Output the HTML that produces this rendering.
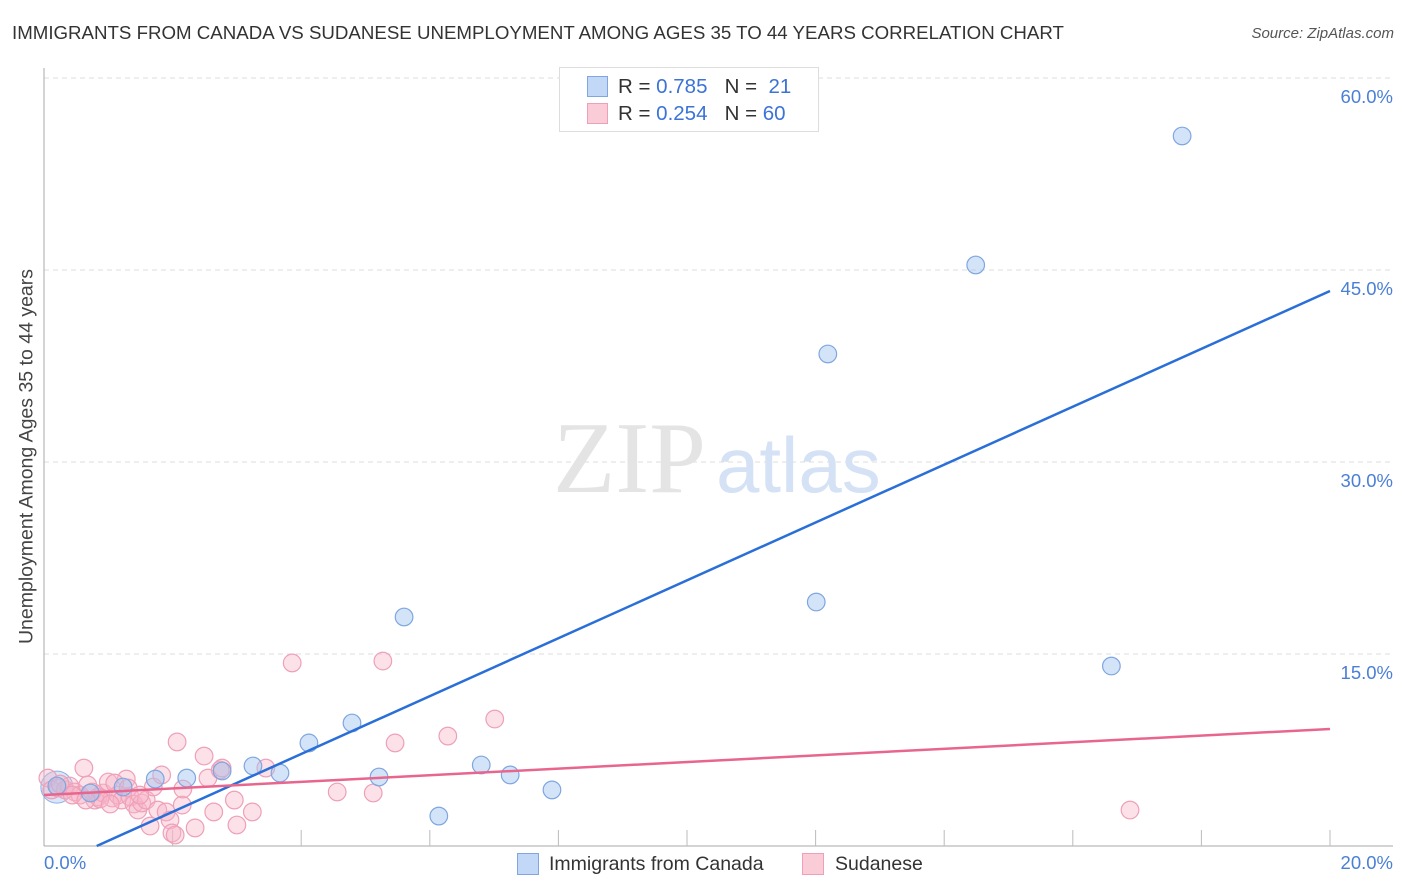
<!DOCTYPE html>
<html><head><meta charset="utf-8"><style>
body{margin:0;background:#fff;font-family:"Liberation Sans",sans-serif}
#wrap{position:relative;width:1406px;height:892px;overflow:hidden}
.t{position:absolute;white-space:nowrap}
</style></head><body>
<div id="wrap">
<div class="t" style="left:12px;top:22px;font-size:18.7px;color:#333">IMMIGRANTS FROM CANADA VS SUDANESE UNEMPLOYMENT AMONG AGES 35 TO 44 YEARS CORRELATION CHART</div>
<div class="t" style="right:12px;top:25px;font-size:15px;color:#555;font-style:italic">Source: ZipAtlas.com</div>
<svg id="svg" width="1406" height="892" style="position:absolute;left:0;top:0"></svg>
</div>
<script>
const blueX=[0.20,0.72,1.23,1.73,2.22,2.77,3.25,3.67,4.12,4.79,5.21,5.60,6.14,6.80,7.25,7.90,12.01,12.19,14.49,16.60,17.70];
const blueY=[4.69,4.14,4.61,5.23,5.31,5.86,6.25,5.70,8.05,9.61,5.39,17.89,2.34,6.33,5.55,4.38,19.06,38.44,45.39,14.06,55.47];
const pinkX=[0.06,0.12,0.22,0.33,0.40,0.48,0.56,0.62,0.68,0.79,0.84,0.92,1.00,1.06,1.15,1.21,1.28,1.34,1.40,1.46,1.52,1.59,1.65,1.70,1.77,1.83,1.90,1.96,1.99,2.07,2.15,2.16,2.35,2.49,2.55,2.64,2.74,2.77,2.96,3.00,3.24,3.45,3.86,4.56,5.12,5.27,5.46,6.28,7.01,16.89,0.25,0.44,0.75,0.87,1.10,1.31,1.49,2.04,1.03,0.65];
const pinkY=[5.31,4.38,4.53,4.38,4.69,4.22,3.98,6.09,4.77,3.59,3.83,4.14,5.00,3.75,3.98,3.59,5.23,3.83,3.28,2.81,3.36,3.59,1.56,4.61,2.81,5.55,2.66,2.03,1.02,8.13,3.20,4.45,1.41,7.03,5.31,2.66,5.94,6.09,3.59,1.64,2.66,6.09,14.30,4.22,4.14,14.45,8.05,8.59,9.92,2.81,4.84,3.98,4.22,3.67,4.92,4.53,3.98,0.86,3.28,3.59];
const yTicks=[15,30,45,60];
const yTickLabels=["15.0%","30.0%","45.0%","60.0%"];
const blueLine=[0.82,0,20,43.36];
const pinkLine=[0,3.98,20,9.14];
const NS="http://www.w3.org/2000/svg",svg=document.getElementById('svg');
const X=v=>44+v/20*1286, Y=v=>846-v/60*768;
function mk(tag,a){const e=document.createElementNS(NS,tag);for(const k in a)e.setAttribute(k,a[k]);svg.appendChild(e);return e;}
yTicks.forEach((t,i)=>{
 const g=mk('line',{x1:44,x2:1393,y1:Y(t),y2:Y(t),stroke:'#ddd','stroke-dasharray':'5,4'});
 
 
 const tx=mk('text',{x:1393,y:Y(t)+25,'text-anchor':'end','font-size':18.5,fill:'#4a7fd6','font-family':'Liberation Sans'});
 tx.textContent=yTickLabels[i];
 
 
});
let ax=mk('line',{x1:44,x2:44,y1:68,y2:846,stroke:'#aaa'});


ax=mk('line',{x1:44,x2:1393,y1:846,y2:846,stroke:'#aaa'});


for(let k=1;k<=10;k++){const tk=mk('line',{x1:X(k*2),x2:X(k*2),y1:830,y2:846,stroke:'#bbb'});
 
 }
let wm=mk('text',{x:553,y:492,'font-size':102,fill:'#e4e4e4','font-family':'Liberation Serif'});wm.textContent='ZIP';


wm=mk('text',{x:716,y:492,'font-size':78,fill:'#d5e2f5','font-family':'Liberation Sans'});wm.textContent='atlas';


mk('circle',{cx:X(0.2),cy:Y(4.6),r:16,fill:'rgba(160,195,240,0.4)',stroke:'#8ab0e6'});
pinkX.forEach((x,i)=>{const c=mk('circle',{cx:X(x),cy:Y(pinkY[i]),r:8.8,fill:'rgba(248,180,200,0.4)',stroke:'#eea0b8','stroke-width':1.2});
 
 });
blueX.forEach((x,i)=>{const c=mk('circle',{cx:X(x),cy:Y(blueY[i]),r:8.8,fill:'rgba(160,195,240,0.45)',stroke:'#7fa6e0','stroke-width':1.2});
 
 });
let l=mk('line',{x1:X(blueLine[0]),y1:Y(blueLine[1]),x2:X(blueLine[2]),y2:Y(blueLine[3]),stroke:'#2a6fd8','stroke-width':2.5});


l=mk('line',{x1:X(pinkLine[0]),y1:Y(pinkLine[1]),x2:X(pinkLine[2]),y2:Y(pinkLine[3]),stroke:'#e8668e','stroke-width':2.5});


</script>
<div class="t" style="left:44px;top:852px;font-size:18.5px;color:#4a7fd6">0.0%</div>
<div class="t" style="right:13px;top:852px;font-size:18.5px;color:#4a7fd6">20.0%</div>
<div class="t" style="left:-163px;top:445px;font-size:19.5px;color:#444;transform:rotate(-90deg);width:380px;text-align:center">Unemployment Among Ages 35 to 44 years</div>
<div class="t" style="left:559px;top:67px;width:258px;height:63px;border:1px solid #ddd;background:#fff;font-size:20.5px;color:#333">
 <div style="position:absolute;left:27px;top:8px;width:19px;height:19px;background:#c3d8f6;border:1px solid #7fa6e0"></div>
 <div class="t" style="left:58px;top:7px">R = <span style="color:#3b73d6">0.785</span>&nbsp;&nbsp;&nbsp;N = &nbsp;<span style="color:#3b73d6">21</span></div>
 <div style="position:absolute;left:27px;top:35px;width:19px;height:19px;background:#f9ccd8;border:1px solid #eea0b8"></div>
 <div class="t" style="left:58px;top:34px">R = <span style="color:#3b73d6">0.254</span>&nbsp;&nbsp;&nbsp;N = <span style="color:#3b73d6">60</span></div>
</div>
<div class="t" style="left:517px;top:853px;width:20px;height:20px;background:#c3d8f6;border:1px solid #7fa6e0"></div>
<div class="t" style="left:549px;top:853px;font-size:19.5px;color:#333">Immigrants from Canada</div>
<div class="t" style="left:802px;top:853px;width:20px;height:20px;background:#f9ccd8;border:1px solid #eea0b8"></div>
<div class="t" style="left:835px;top:853px;font-size:19.5px;color:#333">Sudanese</div>
</body></html>
